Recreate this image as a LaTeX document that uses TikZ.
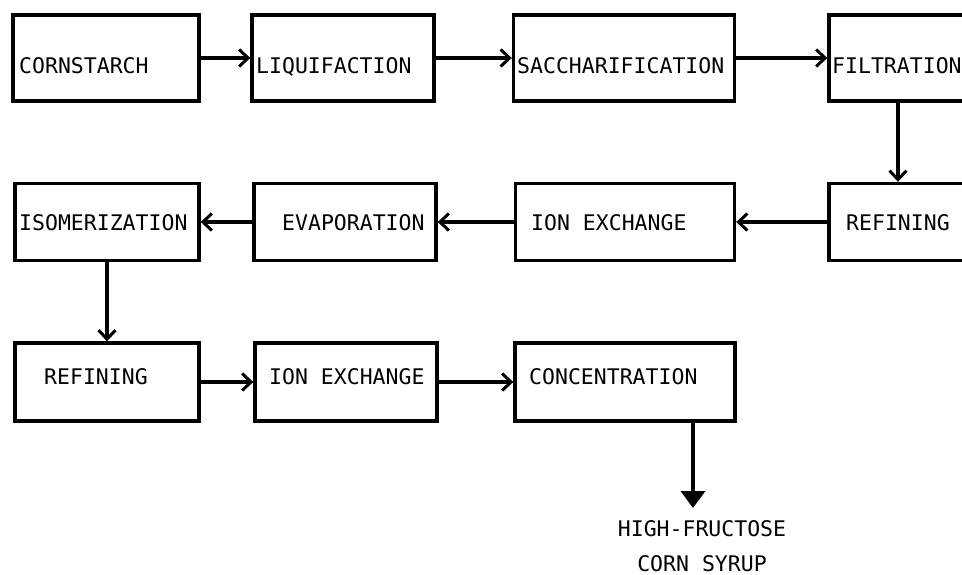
\documentclass[tikz,border=0pt]{standalone}
\usepackage{fontspec}
\setmonofont{DejaVu Sans Mono}
\usetikzlibrary{calc,arrows.meta,positioning}

\begin{document}
\begin{tikzpicture}[x=1pt,y=-1pt,font=\ttfamily\fontsize{21.5}{26}\selectfont]

\tikzset{stepbox/.style={draw=black,line width=3.4pt,inner sep=0pt,shape=rectangle,minimum height=86pt},
steplabel/.style={anchor=base west,inner sep=0pt},
flowarrow/.style={line width=3.4pt,-{Straight Barb[length=9pt,width=17pt,line width=3pt]}},
endarrow/.style={line width=3.4pt,-{Triangle[length=17pt,width=24pt]}}}

% Frame
\useasboundingbox (0,0) rectangle (962,575);
\clip (0,0) rectangle (962,575);

% First row
\node[stepbox,minimum width=186pt] (corn) at (106,58) {};
\node[stepbox,minimum width=182pt] (liq) at (343,58) {};
\node[stepbox,minimum width=221pt] (sacc) at (624,58) {};
\node[stepbox,minimum width=186pt] (filt) at (922,58) {};
\node[steplabel] (tcorn) at (19,74) {CORNSTARCH};
\node[steplabel] (tliq) at (256,74) {LIQUIFACTION};
\node[steplabel] (tsacc) at (517,74) {SACCHARIFICATION};
\node[steplabel] (tfilt) at (832,74) {FILTRATION};

% Second row
\node[stepbox,minimum height=77pt,minimum width=184pt] (isom) at (107,222) {};
\node[stepbox,minimum height=77pt,minimum width=182pt] (evap) at (345,222) {};
\node[stepbox,minimum height=77pt,minimum width=219pt] (ionA) at (625,222) {};
\node[stepbox,minimum height=77pt,minimum width=186pt] (refA) at (922,222) {};
\node[steplabel] (tisom) at (19,230) {ISOMERIZATION};
\node[steplabel] (tevap) at (282,230) {EVAPORATION};
\node[steplabel] (tionA) at (531,230) {ION EXCHANGE};
\node[steplabel] (trefA) at (846,230) {REFINING};

% Third row
\node[stepbox,minimum height=78pt,minimum width=184pt] (refB) at (107,382) {};
\node[stepbox,minimum height=78pt,minimum width=182pt] (ionB) at (346,382) {};
\node[stepbox,minimum height=78pt,minimum width=220pt] (conc) at (625,382) {};
\node[steplabel] (trefB) at (44,384) {REFINING};
\node[steplabel] (tionB) at (269,384) {ION EXCHANGE};
\node[steplabel] (tconc) at (529,384) {CONCENTRATION};

% Product
\node[align=center,anchor=north,inner sep=0pt] (hfcs) at (702,520) {HIGH-FRUCTOSE\\[9pt]CORN SYRUP};
\coordinate (out) at (693,508);

% Flow
\draw[flowarrow] (corn) -- (liq);
\draw[flowarrow] (liq) -- (sacc);
\draw[flowarrow] (sacc) -- (filt);
\draw[flowarrow] ($(filt.south)+(-24,0)$) -- ($(refA.north)+(-24,0)$);
\draw[flowarrow] (refA) -- (ionA);
\draw[flowarrow] (ionA) -- (evap);
\draw[flowarrow] (evap) -- (isom);
\draw[flowarrow] (isom) -- (refB);
\draw[flowarrow] (refB) -- (ionB);
\draw[flowarrow] (ionB) -- (conc);
\draw[endarrow] (conc.south -| out) -- (out);

\end{tikzpicture}
\end{document}
